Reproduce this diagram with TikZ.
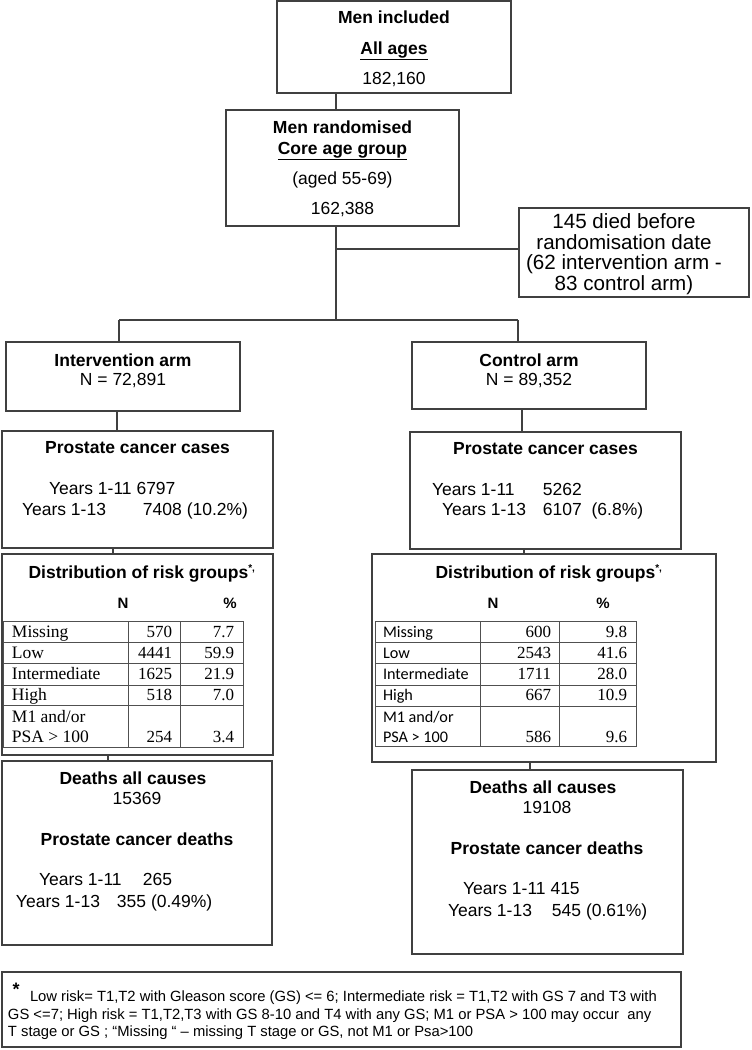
\documentclass[tikz,border=0pt]{standalone}
\usepackage{fontspec}
\setmainfont{Liberation Sans}
\newfontfamily\tnr{Liberation Serif}
\newfontfamily\calib{Carlito}
\newcommand{\fsz}[2]{\fontsize{#1}{#2}\selectfont}
\definecolor{lc}{HTML}{404040}
\definecolor{tc}{HTML}{505050}
\begin{document}
\begin{tikzpicture}[x=1pt,y=-1pt,
  box/.style={draw=lc, line width=1.3pt, inner sep=0pt, outer sep=0pt, anchor=north west},
  conn/.style={draw=lc, line width=1.3pt},
  gridl/.style={draw=tc, line width=1pt},
  t/.style={inner sep=0pt, outer sep=0pt, anchor=base, font=\fsz{17.5}{21}},
  tb/.style={t, font=\fsz{17.5}{21}\bfseries},
  tl/.style={t, anchor=base west},
  tside/.style={t, font=\fsz{20.6}{20.7}, align=center, anchor=north},
  tabs/.style={inner sep=0pt, outer sep=0pt, font=\fsz{17.5}{20}\tnr},
  tabc/.style={inner sep=0pt, outer sep=0pt, font=\fsz{16.2}{20}\calib},
  tnum/.style={inner sep=0pt, outer sep=0pt, font=\fsz{17}{20}\tnr, anchor=base east},
  hdr/.style={inner sep=0pt, outer sep=0pt, anchor=base, font=\fsz{15}{18}\bfseries},
  fn/.style={inner sep=0pt, outer sep=0pt, anchor=base west, font=\fsz{14.8}{17}}
]
\useasboundingbox (0,0) rectangle (752,1050);

% ---------- boxes ----------
\node[box, minimum width=234pt, minimum height=92pt] (b1) at (277,1) {};
\node[box, minimum width=233pt, minimum height=116pt] (b2) at (226,110) {};
\node[box, minimum width=230pt, minimum height=89pt] (side) at (519,208) {};
\node[box, minimum width=234pt, minimum height=69pt] (intv) at (6,342) {};
\node[box, minimum width=234pt, minimum height=67pt] (ctrl) at (412,342) {};
\node[box, minimum width=271pt, minimum height=117pt] (casL) at (2,431) {};
\node[box, minimum width=271pt, minimum height=117pt] (casR) at (410,432) {};
\node[box, minimum width=271pt, minimum height=201pt] (disL) at (2,554) {};
\node[box, minimum width=344pt, minimum height=208pt] (disR) at (372,554) {};
\node[box, minimum width=270pt, minimum height=184pt] (dthL) at (2,761) {};
\node[box, minimum width=271pt, minimum height=184pt] (dthR) at (412,770) {};
\node[box, minimum width=679pt, minimum height=75pt] (foot) at (2,972) {};

% ---------- connectors ----------
\coordinate (c1) at (336,0);
\coordinate (sj) at (336,249);
\coordinate (sp) at (336,320);
\coordinate (hl) at (119,320);
\coordinate (hr) at (518,320);
\coordinate (cl1) at (117,0);
\coordinate (cr1) at (522,0);
\coordinate (cl2) at (113,0);
\coordinate (cr2) at (524,0);
\coordinate (cl3) at (108,0);
\coordinate (cr3) at (530,0);
\draw[conn] (b1.south -| c1) -- (b2.north -| c1);
\draw[conn] (b2.south -| c1) -- (sp);
\draw[conn] (sj) -- (sj -| side.west);
\draw[conn] (hl) -- (hr);
\draw[conn] (hl) -- (intv.north -| hl);
\draw[conn] (hr) -- (ctrl.north -| hr);
\draw[conn] (intv.south -| cl1) -- (casL.north -| cl1);
\draw[conn] (ctrl.south -| cr1) -- (casR.north -| cr1);
\draw[conn] (casL.south -| cl2) -- (disL.north -| cl2);
\draw[conn] (casR.south -| cr2) -- (disR.north -| cr2);
\draw[conn] (disL.south -| cl3) -- (dthL.north -| cl3);
\draw[conn] (disR.south -| cr3) -- (dthR.north -| cr3);

% ---------- top texts ----------
\node[tb] (t1a) at (394,23) {Men included};
\node[tb] (t1b) at (394,54) {\underline{All ages}};
\node[t]  (t1c) at (394,84) {182,160};
\node[tb] (t2a) at (342.5,133) {Men randomised};
\node[tb] (t2b) at (342.5,154) {\underline{Core age group}};
\node[t]  (t2c) at (342.5,184) {(aged 55-69)};
\node[t]  (t2d) at (342.5,214) {162,388};
\node[tside] (ts) at (624,213.5) {145 died before\\randomisation date\\(62 intervention arm -\\83 control arm)};

% ---------- arms ----------
\node[tb] (ti1) at (123,366) {Intervention arm};
\node[t]  (ti2) at (123,385) {N = 72,891};
\node[tb] (tc1) at (529,366) {Control arm};
\node[t]  (tc2) at (529,385) {N = 89,352};

% ---------- cases ----------
\node[tb] (tcl1) at (137.5,453) {Prostate cancer cases};
\node[tl] (tcl2) at (49,494) {Years 1-11 6797};
\node[tl] (tcl3) at (22,515) {\makebox[121pt][l]{Years 1-13}7408 (10.2\%)};
\node[tb] (tcr1) at (545.5,454) {Prostate cancer cases};
\node[tl] (tcr2) at (432,495) {\makebox[111pt][l]{Years 1-11}5262};
\node[tl] (tcr3) at (442,515) {\makebox[101pt][l]{Years 1-13}6107\ \ (6.8\%)};

% ---------- distribution left ----------
\node[tb] (tdl) at (142,578) {Distribution of risk groups\textsuperscript{\fsz{10}{10}*,}};
\node[hdr] (tdlN) at (123,608) {N};
\node[hdr] (tdlP) at (230,608) {\%};
\draw[gridl] (3,621) rectangle (243,747);
\foreach \yy in {642,663,685,705} \draw[gridl] (3,\yy) -- (243,\yy);
\draw[gridl] (128,621) -- (128,747);
\draw[gridl] (180,621) -- (180,747);
\node[tabs, anchor=base west] (l1) at (12,637) {Missing};
\node[tabs, anchor=base west] (l2) at (12,658) {Low};
\node[tabs, anchor=base west] (l3) at (12,679.5) {Intermediate};
\node[tabs, anchor=base west] (l4) at (12,700.5) {High};
\node[tabs, anchor=base west] (l5) at (12,722) {M1 and/or};
\node[tabs, anchor=base west] (l6) at (12,742) {PSA > 100};
\node[tnum] (n1) at (172,637) {570};
\node[tnum] (n2) at (172,658) {4441};
\node[tnum] (n3) at (172,679.5) {1625};
\node[tnum] (n4) at (172,700.5) {518};
\node[tnum] (n5) at (172,742) {254};
\node[tnum] (p1) at (234,637) {7.7};
\node[tnum] (p2) at (234,658) {59.9};
\node[tnum] (p3) at (234,679.5) {21.9};
\node[tnum] (p4) at (234,700.5) {7.0};
\node[tnum] (p5) at (234,742) {3.4};

% ---------- distribution right ----------
\node[tb] (tdr) at (549,578) {Distribution of risk groups\textsuperscript{\fsz{10}{10}*,}};
\node[hdr] (tdrN) at (493,608) {N};
\node[hdr] (tdrP) at (603,608) {\%};
\draw[gridl] (375,621) rectangle (636,746);
\foreach \yy in {642,663,685,706} \draw[gridl] (375,\yy) -- (636,\yy);
\draw[gridl] (480,621) -- (480,746);
\draw[gridl] (559,621) -- (559,746);
\node[tabc, anchor=base west] (r1) at (383,637) {Missing};
\node[tabc, anchor=base west] (r2) at (383,658) {Low};
\node[tabc, anchor=base west] (r3) at (383,679.5) {Intermediate};
\node[tabc, anchor=base west] (r4) at (383,700.5) {High};
\node[tabc, anchor=base west] (r5) at (383,722) {M1 and/or};
\node[tabc, anchor=base west] (r6) at (383,742) {PSA > 100};
\node[tnum] (m1) at (551,637) {600};
\node[tnum] (m2) at (551,658) {2543};
\node[tnum] (m3) at (551,679.5) {1711};
\node[tnum] (m4) at (551,700.5) {667};
\node[tnum] (m5) at (551,742) {586};
\node[tnum] (q1) at (627,637) {9.8};
\node[tnum] (q2) at (627,658) {41.6};
\node[tnum] (q3) at (627,679.5) {28.0};
\node[tnum] (q4) at (627,700.5) {10.9};
\node[tnum] (q5) at (627,742) {9.6};

% ---------- deaths ----------
\node[tb] (tel1) at (133,784) {Deaths all causes};
\node[t]  (tel2) at (137,804) {15369};
\node[tb] (tel3) at (137,845) {Prostate cancer deaths};
\node[tl] (tel4) at (39,885) {\makebox[104pt][l]{Years 1-11}265};
\node[tl] (tel5) at (16,907) {\makebox[101pt][l]{Years 1-13}355 (0.49\%)};
\node[tb] (ter1) at (543,793) {Deaths all causes};
\node[t]  (ter2) at (547,813) {19108};
\node[tb] (ter3) at (547,854) {Prostate cancer deaths};
\node[tl] (ter4) at (463,894) {Years 1-11 415};
\node[tl] (ter5) at (448,916) {\makebox[104pt][l]{Years 1-13}545 (0.61\%)};

% ---------- footnote ----------
\node[inner sep=0pt, anchor=base west, font=\fsz{18}{18}\bfseries] (fs) at (12.5,995.5) {*};
\node[fn] (f1) at (30,1001) {Low risk= T1,T2 with Gleason score (GS) <= 6; Intermediate risk = T1,T2 with GS 7 and T3 with};
\node[fn] (f2) at (8,1019) {GS <=7; High risk = T1,T2,T3 with GS 8-10 and T4 with any GS; M1 or PSA > 100 may occur\ \ any};
\node[fn] (f3) at (8,1036) {T stage or GS ; “Missing “ – missing T stage or GS, not M1 or Psa>100};
\end{tikzpicture}
\end{document}
